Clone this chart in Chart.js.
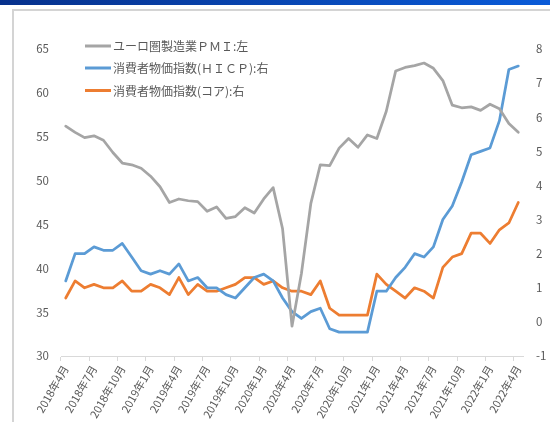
<!DOCTYPE html>
<html>
<head>
<meta charset="utf-8">
<script src="https://cdn.jsdelivr.net/npm/chart.js@4/dist/chart.umd.min.js"></script>
<style>
  html, body { margin: 0; padding: 0; background: #fff; }
  body { width: 550px; height: 422px; overflow: hidden; position: relative; }
  .topbar { position: absolute; left: 0; top: 0; width: 550px; height: 5px;
            background: linear-gradient(to right, #07318c, #0a5bd8); }
  .frame { position: absolute; left: 12px; top: 9px; width: 600px; height: 500px;
           border-left: 2px solid #d4d4d4; border-top: 2px solid #d4d4d4; }
  #chart { position: absolute; left: 0; top: 0; }
</style>
</head>
<body>
<div class="topbar"></div>
<div class="frame"></div>
<canvas id="chart" width="550" height="422"></canvas>
<script>
// categories: 2018年4月 .. 2022年4月
const months = [
  '2018年4月','2018年5月','2018年6月','2018年7月','2018年8月','2018年9月','2018年10月','2018年11月','2018年12月',
  '2019年1月','2019年2月','2019年3月','2019年4月','2019年5月','2019年6月','2019年7月','2019年8月','2019年9月','2019年10月','2019年11月','2019年12月',
  '2020年1月','2020年2月','2020年3月','2020年4月','2020年5月','2020年6月','2020年7月','2020年8月','2020年9月','2020年10月','2020年11月','2020年12月',
  '2021年1月','2021年2月','2021年3月','2021年4月','2021年5月','2021年6月','2021年7月','2021年8月','2021年9月','2021年10月','2021年11月','2021年12月',
  '2022年1月','2022年2月','2022年3月','2022年4月'
];

// ユーロ圏製造業PMI (left axis)
const pmi = [
  56.2, 55.5, 54.9, 55.1, 54.6, 53.2, 52.0, 51.8, 51.4,
  50.5, 49.3, 47.5, 47.9, 47.7, 47.6, 46.5, 47.0, 45.7, 45.9, 46.9, 46.3,
  47.9, 49.2, 44.5, 33.4, 39.4, 47.4, 51.8, 51.7, 53.7, 54.8, 53.8, 55.2,
  54.8, 57.9, 62.5, 62.9, 63.1, 63.4, 62.8, 61.4, 58.6, 58.3, 58.4, 58.0,
  58.7, 58.2, 56.5, 55.5
];

// 消費者物価指数 HICP (right axis)
const hicp = [
  1.2, 2.0, 2.0, 2.2, 2.1, 2.1, 2.3, 1.9, 1.5,
  1.4, 1.5, 1.4, 1.7, 1.2, 1.3, 1.0, 1.0, 0.8, 0.7, 1.0, 1.3,
  1.4, 1.2, 0.7, 0.3, 0.1, 0.3, 0.4, -0.2, -0.3, -0.3, -0.3, -0.3,
  0.9, 0.9, 1.3, 1.6, 2.0, 1.9, 2.2, 3.0, 3.4, 4.1, 4.9, 5.0,
  5.1, 5.9, 7.4, 7.5
];

// 消費者物価指数 コア (right axis)
const core = [
  0.7, 1.2, 1.0, 1.1, 1.0, 1.0, 1.2, 0.9, 0.9,
  1.1, 1.0, 0.8, 1.3, 0.8, 1.1, 0.9, 0.9, 1.0, 1.1, 1.3, 1.3,
  1.1, 1.2, 1.0, 0.9, 0.9, 0.8, 1.2, 0.4, 0.2, 0.2, 0.2, 0.2,
  1.4, 1.1, 0.9, 0.7, 1.0, 0.9, 0.7, 1.6, 1.9, 2.0, 2.6, 2.6,
  2.3, 2.7, 2.9, 3.5
];

const seriesNames = ['ユーロ圏製造業ＰＭＩ:左', '消費者物価指数(ＨＩＣＰ):右', '消費者物価指数(コア):右'];
const leftTicks = [30, 65, 5];   // min, max, step
const rightTicks = [-1, 8, 1];

const textColor = '#595959';
const cjkFont = '"Noto Sans CJK JP", "Noto Sans", sans-serif';

// legend drawn inside the plot, top-left like the original
const innerLegend = {
    id: 'innerLegend',
    afterDraw(chart) {
        const ctx = chart.ctx;
        const rows = [46, 68, 90.5];
        ctx.save();
        chart.data.datasets.forEach((ds, i) => {
            ctx.strokeStyle = ds.borderColor;
            ctx.lineWidth = 3;
            ctx.beginPath();
            ctx.moveTo(85, rows[i]);
            ctx.lineTo(111, rows[i]);
            ctx.stroke();
            ctx.fillStyle = textColor;
            ctx.font = '12px ' + cjkFont;
            ctx.textBaseline = 'middle';
            ctx.textAlign = 'left';
            ctx.fillText(ds.label, 113, rows[i] + 0.5);
        });
        ctx.restore();
    }
};

const chartCtx = document.getElementById('chart').getContext('2d');
const chart = new Chart(chartCtx, {
    type: 'line',
    data: {
        labels: months,
        datasets: [{
            label: seriesNames[0],
            data: pmi,
            borderColor: '#A5A5A5',
            yAxisID: 'y'
        }, {
            label: seriesNames[1],
            data: hicp,
            borderColor: '#5B9BD5',
            yAxisID: 'y1'
        }, {
            label: seriesNames[2],
            data: core,
            borderColor: '#ED7D31',
            yAxisID: 'y1'
        }]
    },
    options: {
        responsive: false,
        animation: false,
        layout: { padding: { top: 49, left: 0, right: 0, bottom: 0 } },
        elements: {
            line: { borderWidth: 2.75, tension: 0, borderCapStyle: 'round', borderJoinStyle: 'round' },
            point: { radius: 0 }
        },
        plugins: {
            legend: { display: false },
            tooltip: { enabled: false }
        },
        scales: {
            x: {
                offset: true,
                grid: {
                    offset: true,
                    drawOnChartArea: false,
                    drawTicks: true,
                    tickLength: 5,
                    color: (c) => (c.index % 3 === 0 ? '#d9d9d9' : 'rgba(0,0,0,0)')
                },
                border: { display: true, color: '#d9d9d9', width: 1 },
                ticks: {
                    autoSkip: false,
                    minRotation: 60,
                    maxRotation: 60,
                    padding: 2,
                    color: textColor,
                    font: { family: cjkFont, size: 11 },
                    callback: (v, i) => (i % 3 === 0 ? months[i] : '')
                },
                afterFit: (s) => { s.height = 66; }
            },
            y: {
                position: 'left',
                min: leftTicks[0],
                max: leftTicks[1],
                grid: { display: false, drawTicks: false },
                border: { display: false },
                ticks: {
                    stepSize: leftTicks[2],
                    padding: 12,
                    color: textColor,
                    font: { family: cjkFont, size: 11.5 }
                },
                afterFit: (s) => { s.width = 61; }
            },
            y1: {
                position: 'right',
                min: rightTicks[0],
                max: rightTicks[1],
                grid: { display: false, drawTicks: false },
                border: { display: false },
                ticks: {
                    stepSize: rightTicks[2],
                    padding: 13,
                    color: textColor,
                    font: { family: cjkFont, size: 11.5 }
                },
                afterFit: (s) => { s.width = 27; }
            }
        }
    },
    plugins: [innerLegend]
});
</script>
</body>
</html>
